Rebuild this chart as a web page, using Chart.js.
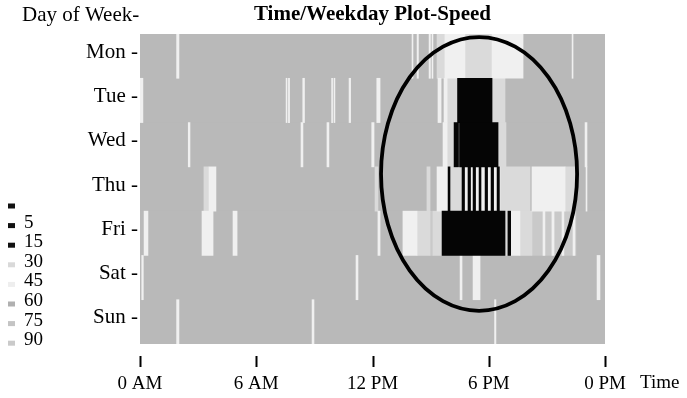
<!DOCTYPE html>
<html><head><meta charset="utf-8">
<script src="https://cdn.jsdelivr.net/npm/chart.js@4"></script>
<style>html,body{margin:0;padding:0;background:#fff;}</style>
</head><body>
<canvas id="c" width="687" height="398"></canvas>
<script>
// ---- data ----
const days = ['Mon','Tue','Wed','Thu','Fri','Sat','Sun'];
const hourTicks = [0, 6, 12, 18, 24];
const hourLabels = ['0 AM', '6 AM', '12 PM', '6 PM', '0 PM'];
const legendLabels = ['', '5', '15', '30', '45', '60', '75', '90'];
const legendColors = ['#111111','#111111','#111111','#d9d9d9','#eeeeee','#b0b0b0','#c4c4c4','#cacaca'];

// speed spans: [day, startHour, endHour]
const slowSpans = [
  ['Tue',16.39,18.17],
  ['Wed',16.21,16.44],['Wed',16.49,18.48],
  ['Thu',15.90,16.00],['Thu',16.62,16.75],['Thu',16.93,17.06],['Thu',17.19,17.32],['Thu',17.50,17.60],
  ['Thu',17.81,17.94],['Thu',18.12,18.25],['Thu',18.43,18.55],
  ['Fri',15.59,18.84],['Fri',18.99,19.13]
];
const mediumSpans = [
  ['Mon',15.33,15.74],['Mon',16.77,18.17],
  ['Tue',15.85,16.39],['Tue',18.17,18.84],
  ['Wed',15.85,16.21],['Wed',18.48,18.89],
  ['Thu',3.30,3.54],['Thu',12.13,12.28],['Thu',14.81,14.97],['Thu',16.00,16.62],['Thu',18.58,20.13],['Thu',21.94,22.45],
  ['Fri',14.30,14.97],['Fri',15.12,15.59],['Fri',18.84,18.99],['Fri',19.61,20.23]
];
const fastSpans = [
  ['Mon',1.89,2.01],['Mon',14.04,14.09],['Mon',14.30,14.37],['Mon',14.92,14.99],['Mon',15.07,15.12],
  ['Mon',15.74,16.77],['Mon',18.17,19.77],['Mon',22.30,22.35],
  ['Tue',0.00,0.15],['Tue',7.54,7.59],['Tue',7.66,7.72],['Tue',8.40,8.49],['Tue',9.89,9.94],['Tue',10.01,10.06],
  ['Tue',10.79,10.87],['Tue',12.22,12.39],['Tue',15.38,15.54],['Tue',15.69,15.85],
  ['Wed',2.49,2.58],['Wed',8.31,8.41],['Wed',9.65,9.75],['Wed',11.96,12.08],['Wed',15.64,15.85],['Wed',16.44,16.49],['Wed',22.97,23.07],
  ['Thu',3.56,3.92],['Thu',15.33,15.90],['Thu',16.62,18.58],['Thu',20.23,21.94],['Thu',23.02,23.07],
  ['Fri',0.21,0.41],['Fri',3.20,3.77],['Fri',4.80,5.01],['Fri',12.28,12.39],['Fri',13.57,14.30],['Fri',19.13,19.61],
  ['Fri',20.80,20.90],['Fri',21.26,21.37],['Fri',21.78,21.88],['Fri',22.35,22.45],
  ['Sat',0.09,0.17],['Sat',11.15,11.25],['Sat',16.52,16.62],['Sat',17.19,17.55],['Sat',23.59,23.74],
  ['Sun',1.89,2.01],['Sun',8.88,8.98],['Sun',18.30,18.37]
];
const dimSpans = [
  ['Fri',14.97,15.12],['Fri',20.23,22.50]
];
// ellipse highlight (hour, day-row units)
const ellipseCenter = [17.5, 2.66];
const ellipseRadius = [5.06, 3.09];

// ---- chart ----
const FONT = "'Liberation Serif', 'Times New Roman', serif";
const toPoints = spans => spans.map(([d, s, e]) => ({ y: d, x: [s, e] }));
const barBase = { grouped: false, categoryPercentage: 1, barPercentage: 1, borderWidth: 0, borderSkipped: false };

const decor = {
  id: 'decor',
  afterDraw(chart) {
    const ctx = chart.ctx, xs = chart.scales.x, ys = chart.scales.y, ca = chart.chartArea;
    ctx.save();
    // ellipse
    const cx = xs.getPixelForValue(ellipseCenter[0]);
    const cy = ys.getPixelForValue(ellipseCenter[1]);
    const rx = Math.abs(xs.getPixelForValue(ellipseCenter[0] + ellipseRadius[0]) - cx);
    const ry = Math.abs(ys.getPixelForValue(ellipseCenter[1] + ellipseRadius[1]) - cy);
    ctx.beginPath();
    ctx.ellipse(cx, cy, rx, ry, 0, 0, Math.PI * 2);
    ctx.lineWidth = 3.8; ctx.strokeStyle = '#000'; ctx.stroke();
    // tick marks
    ctx.lineWidth = 2;
    hourTicks.forEach(v => {
      const px = Math.round(xs.getPixelForValue(v)) + 0.5;
      ctx.beginPath(); ctx.moveTo(px, 356); ctx.lineTo(px, 367); ctx.stroke();
    });
    ctx.fillStyle = '#000';
    ctx.textBaseline = 'middle';
    // title & axis names
    ctx.font = "bold 21px " + FONT; ctx.textAlign = 'center';
    ctx.fillText('Time/Weekday Plot-Speed', (ca.left + ca.right) / 2, 15);
    ctx.font = "21px " + FONT; ctx.textAlign = 'left';
    ctx.fillText('Day of Week-', 22, 15);
    ctx.font = "19px " + FONT;
    ctx.fillText('Time', 640, 383);
    // legend
    legendColors.forEach((col, i) => {
      const y = 206 + i * 19.6;
      ctx.fillStyle = col;
      ctx.fillRect(8, y - 2.5, 7, 5);
      if (legendLabels[i]) {
        ctx.fillStyle = '#000';
        ctx.font = "19px " + FONT;
        ctx.fillText(legendLabels[i], 24, y - 3);
      }
    });
    ctx.restore();
  }
};

new Chart(document.getElementById('c'), {
  type: 'bar',
  data: {
    labels: days,
    datasets: [
      { ...barBase, label: 'slow', data: toPoints(slowSpans), backgroundColor: '#050505', order: 1 },
      { ...barBase, label: 'fast', data: toPoints(fastSpans), backgroundColor: '#f0f0f0', order: 2 },
      { ...barBase, label: 'medium', data: toPoints(mediumSpans), backgroundColor: '#dadada', order: 3 },
      { ...barBase, label: 'dim', data: toPoints(dimSpans), backgroundColor: '#c9c9c9', order: 4 },
      { ...barBase, label: 'base', data: days.map(d => ({ y: d, x: [0, 24] })), backgroundColor: '#b9b9b9', order: 10 }
    ]
  },
  options: {
    indexAxis: 'y',
    responsive: false,
    animation: false,
    devicePixelRatio: 1,
    layout: { padding: { top: 34, right: 82, left: 0, bottom: 0 } },
    plugins: { legend: { display: false }, tooltip: { enabled: false }, title: { display: false } },
    scales: {
      x: {
        type: 'linear', min: 0, max: 24, position: 'bottom',
        grid: { display: false, drawTicks: false },
        border: { display: false },
        afterBuildTicks: s => { s.ticks = hourTicks.map(v => ({ value: v })); },
        afterFit: s => { s.height = 54; },
        ticks: {
          autoSkip: false, maxRotation: 0, padding: 29, color: '#000',
          font: { family: FONT, size: 19, weight: 'normal' },
          callback: v => hourLabels[hourTicks.indexOf(v)]
        }
      },
      y: {
        type: 'category', offset: true,
        grid: { display: false, drawTicks: false },
        border: { display: false },
        afterFit: s => { s.width = 140; },
        ticks: {
          padding: 2, color: '#000', labelOffset: -4,
          font: { family: FONT, size: 21, weight: 'normal' },
          callback: (v, i) => days[i] + ' -'
        }
      }
    }
  },
  plugins: [decor]
});
</script>
</body></html>
